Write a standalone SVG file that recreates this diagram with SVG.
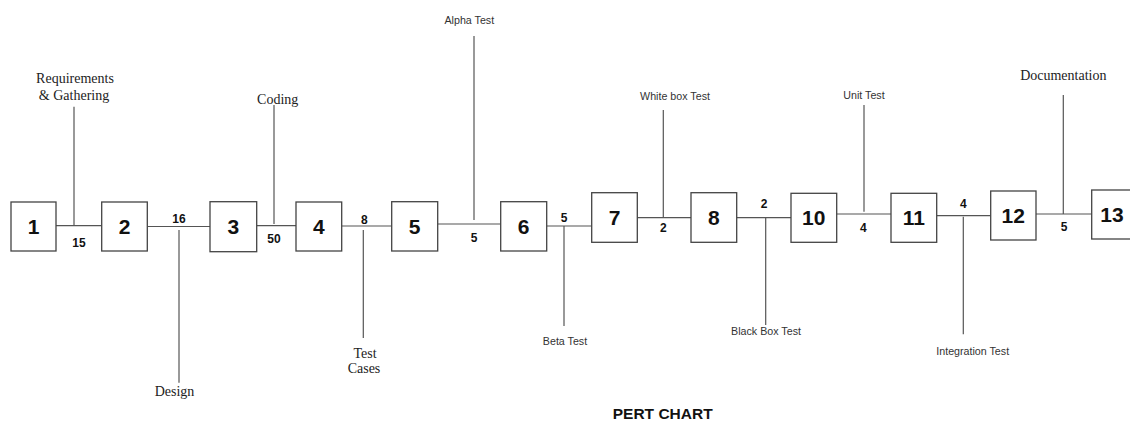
<svg xmlns="http://www.w3.org/2000/svg" width="1130" height="421" viewBox="0 0 1130 421">
<style>
.box{fill:#fff;stroke:#444;stroke-width:1.3}
.num{font-family:"Liberation Sans",Arial,sans-serif;font-weight:bold;font-size:21px;fill:#111;text-anchor:middle;dominant-baseline:central}
.w{font-family:"Liberation Sans",Arial,sans-serif;font-weight:bold;font-size:12px;fill:#111;text-anchor:middle;dominant-baseline:central}
.ln{stroke:#555;stroke-width:1.2;fill:none}
.serif{font-family:"Liberation Serif","Times New Roman",serif;font-size:14px;fill:#222;text-anchor:middle;dominant-baseline:central}
.sans{font-family:"Liberation Sans",Arial,sans-serif;font-size:10.7px;fill:#333;text-anchor:middle;dominant-baseline:central}
.title{font-family:"Liberation Sans",Arial,sans-serif;font-weight:bold;font-size:15.5px;fill:#111;text-anchor:middle;dominant-baseline:central}
</style>
<rect width="1130" height="421" fill="#fff"/>
<g id="connectors">
<line class="ln" x1="56" y1="225.7" x2="101.7" y2="225.7"/>
<line class="ln" x1="147.3" y1="226.5" x2="210" y2="226.5"/>
<line class="ln" x1="256.7" y1="225.7" x2="296" y2="225.7"/>
<line class="ln" x1="341.7" y1="226" x2="391.7" y2="226"/>
<line class="ln" x1="437.7" y1="224" x2="500.7" y2="224"/>
<line class="ln" x1="546.7" y1="226" x2="591.7" y2="226"/>
<line class="ln" x1="637.3" y1="217.7" x2="691" y2="217.7"/>
<line class="ln" x1="736.7" y1="217.7" x2="791" y2="217.7"/>
<line class="ln" x1="836.7" y1="214" x2="891" y2="214"/>
<line class="ln" x1="936.7" y1="215.7" x2="990.7" y2="215.7"/>
<line class="ln" x1="1036" y1="214" x2="1091.7" y2="214"/>
<line class="ln" x1="74" y1="106.7" x2="74" y2="225.7"/>
<line class="ln" x1="179" y1="230" x2="179" y2="382.7"/>
<line class="ln" x1="274" y1="105" x2="274" y2="224"/>
<line class="ln" x1="363.3" y1="230" x2="363.3" y2="338"/>
<line class="ln" x1="474" y1="36" x2="474" y2="220"/>
<line class="ln" x1="564" y1="226" x2="564" y2="326"/>
<line class="ln" x1="663.3" y1="110" x2="663.3" y2="217.7"/>
<line class="ln" x1="765.7" y1="218" x2="765.7" y2="325"/>
<line class="ln" x1="864" y1="105" x2="864" y2="211.7"/>
<line class="ln" x1="963.3" y1="216.7" x2="963.3" y2="334.3"/>
<line class="ln" x1="1063.3" y1="95" x2="1063.3" y2="214"/>
</g>
<g id="weights">
<text class="w" x="79" y="242.7">15</text>
<text class="w" x="179" y="219">16</text>
<text class="w" x="274" y="239">50</text>
<text class="w" x="364.3" y="220">8</text>
<text class="w" x="474" y="238.3">5</text>
<text class="w" x="564" y="218.3">5</text>
<text class="w" x="663.3" y="227.7">2</text>
<text class="w" x="764" y="204">2</text>
<text class="w" x="863.3" y="227.7">4</text>
<text class="w" x="963.3" y="204">4</text>
<text class="w" x="1064" y="227.3">5</text>
</g>
<g id="labels">
<text class="serif" x="75" y="78.3">Requirements</text>
<text class="serif" x="74" y="95">&amp; Gathering</text>
<text class="serif" x="174.5" y="391.7">Design</text>
<text class="serif" x="277.7" y="99.3">Coding</text>
<text class="serif" x="365" y="353">Test</text>
<text class="serif" x="364" y="368">Cases</text>
<text class="sans" x="469.3" y="20">Alpha Test</text>
<text class="sans" x="565" y="340.7">Beta Test</text>
<text class="sans" x="675" y="95.7">White box Test</text>
<text class="sans" x="766" y="330.7">Black Box Test</text>
<text class="sans" x="864" y="95">Unit Test</text>
<text class="sans" x="972.7" y="350.7">Integration Test</text>
<text class="serif" x="1063.3" y="75.7">Documentation</text>
<text class="title" x="662.7" y="413.3">PERT CHART</text>
</g>
<g id="node1"><rect class="box" x="11" y="202" width="45" height="49"/><text class="num" x="33.5" y="226.5">1</text></g>
<g id="node2"><rect class="box" x="101.7" y="202" width="45.6" height="49"/><text class="num" x="124.5" y="226.5">2</text></g>
<g id="node3"><rect class="box" x="210" y="201.7" width="46.7" height="50"/><text class="num" x="233.3" y="226.7">3</text></g>
<g id="node4"><rect class="box" x="296" y="202" width="45.7" height="49"/><text class="num" x="318.8" y="226.5">4</text></g>
<g id="node5"><rect class="box" x="391.7" y="201.7" width="46" height="49.3"/><text class="num" x="414.7" y="226.3">5</text></g>
<g id="node6"><rect class="box" x="500.7" y="201.7" width="46" height="49.3"/><text class="num" x="523.7" y="226.3">6</text></g>
<g id="node7"><rect class="box" x="591.7" y="192.7" width="45.6" height="49.6"/><text class="num" x="614.5" y="217.5">7</text></g>
<g id="node8"><rect class="box" x="691" y="192.7" width="45.7" height="49.6"/><text class="num" x="713.8" y="217.5">8</text></g>
<g id="node10"><rect class="box" x="791" y="193.3" width="45.7" height="49"/><text class="num" x="813.8" y="217.8">10</text></g>
<g id="node11"><rect class="box" x="891" y="193.3" width="45.7" height="49"/><text class="num" x="913.8" y="217.8">11</text></g>
<g id="node12"><rect class="box" x="990.7" y="191" width="45.3" height="49"/><text class="num" x="1013.3" y="215.5">12</text></g>
<g id="node13"><rect class="box" x="1091.7" y="190" width="45.6" height="49"/><text class="num" x="1112" y="214.5">13</text></g>
</svg>
